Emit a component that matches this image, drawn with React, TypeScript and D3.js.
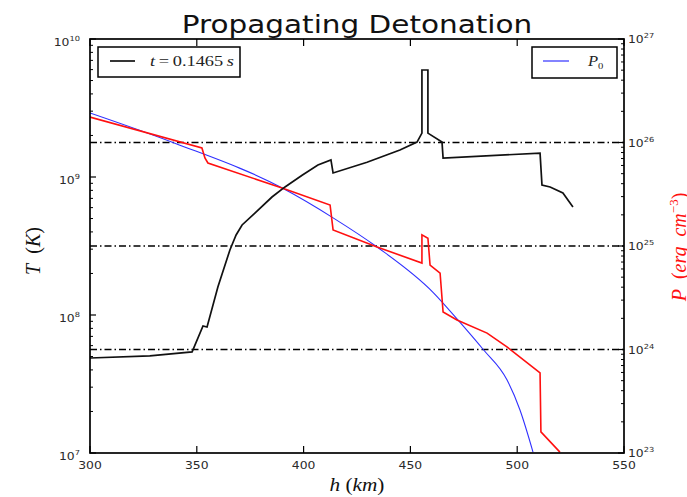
import React from 'react';
import * as d3 from 'd3';

const W = 687;
const H = 497;
const PLOT = { left: 90, right: 624, top: 39, bottom: 453 };

// Temperature profile T(h) at t = 0.1465 s
const hT = [300, 328, 347.8, 352.9, 354.8, 359.9, 365.5, 368.4, 371.2, 377.2, 385.2, 391.3, 399.3, 406.7, 412.8, 413.8, 429.7, 445.1, 453.1, 455.4, 455.4, 458.2, 458.2, 464.8, 465.3, 510.7, 511.6, 515.4, 521.4, 526.1];
const T = [4.88e7, 5.05e7, 5.4e7, 8.32e7, 8.18e7, 1.6e8, 2.96e8, 3.8e8, 4.49e8, 5.48e8, 7.16e8, 8.47e8, 1.03e9, 1.22e9, 1.33e9, 1.07e9, 1.28e9, 1.57e9, 1.79e9, 2.08e9, 5.96e9, 5.96e9, 2.08e9, 1.79e9, 1.37e9, 1.49e9, 8.75e8, 8.47e8, 7.66e8, 6.07e8];

// Pressure profile P(h)
const hP = [300, 352.4, 353.8, 355.2, 389.9, 412.4, 413.8, 434.4, 455.4, 455.4, 458.2, 459.2, 463.9, 465.3, 471.8, 485.9, 495.2, 510.7, 511.1, 520];
const P = [1.76e26, 8.85e25, 7.08e25, 6.34e25, 3.63e25, 2.49e25, 1.43e25, 9.77e24, 6.85e24, 1.28e25, 1.19e25, 6.55e24, 5.48e24, 2.3e24, 1.93e24, 1.44e24, 1.06e24, 5.93e23, 1.6e23, 1.02e23];

// Initial pressure profile P0(h)
const hP0 = [300, 340, 390, 414, 434.4, 460.7, 471.6, 484.1, 495.2, 501.3, 507.4];
const P0 = [1.93e26, 9.8e25, 3.63e25, 1.86e25, 9.77e24, 3.55e24, 2.0e24, 1.0e24, 5.1e23, 2.6e23, 1.02e23];

// Reference pressure levels
const pLevels = [1e24, 1e25, 1e26];

const xTicks = [300, 350, 400, 450, 500, 550];
const tDecades = [7, 8, 9, 10];
const pDecades = [23, 24, 25, 26, 27];

const SX = 1.18; // horizontal stretch of the text
const SANS = 'DejaVu Sans, sans-serif';
const SERIF = 'Liberation Serif, serif';

const x = d3.scaleLinear().domain([300, 550]).range([PLOT.left, PLOT.right]);
const yT = d3.scaleLog().domain([1e7, 1e10]).range([PLOT.bottom, PLOT.top]);
const yP = d3.scaleLog().domain([1e23, 1e27]).range([PLOT.bottom, PLOT.top]);

function Pow({ px, py, exp, anchor }: { px: number; py: number; exp: number; anchor: 'start' | 'end' }) {
  return (
    <text
      transform={`translate(${px},${py}) scale(${SX},1)`}
      textAnchor={anchor}
      fontFamily={SANS}
      fontSize={10.5}
      fill="#2a2a2a"
    >
      <tspan>10</tspan>
      <tspan dy={-5} fontSize={7}>{exp}</tspan>
    </text>
  );
}

function minorTicks(decades: number[]) {
  const out: number[] = [];
  for (let i = 0; i < decades.length - 1; i++) {
    for (let m = 2; m <= 9; m++) out.push(m * Math.pow(10, decades[i]));
  }
  return out;
}

export default function App() {
  const lineT = d3.line<number>().x((_, i) => x(hT[i])).y((d) => yT(d));
  const lineP = d3.line<number>().x((_, i) => x(hP[i])).y((d) => yP(d));
  const lineP0 = d3
    .line<number>()
    .x((_, i) => x(hP0[i]))
    .y((d) => yP(d))
    .curve(d3.curveMonotoneX);

  const tMinor = minorTicks(tDecades);
  const pMinor = minorTicks(pDecades);

  return (
    <svg
      width={W}
      height={H}
      style={{ position: 'fixed', left: 0, top: 0, background: '#fff' }}
    >
      <rect x={0} y={0} width={W} height={H} fill="#fff" />

      {/* title */}
      <text
        transform={`translate(${(PLOT.left + PLOT.right) / 2},33) scale(${SX},1)`}
        textAnchor="middle"
        fontFamily={SANS}
        fontSize={25}
        fill="#111"
      >
        Propagating Detonation
      </text>

      <defs>
        <clipPath id="plot-clip">
          <rect x={PLOT.left} y={PLOT.top} width={PLOT.right - PLOT.left} height={PLOT.bottom - PLOT.top} />
        </clipPath>
      </defs>

      <g clipPath="url(#plot-clip)">
        {pLevels.map((p) => (
          <line
            key={p}
            x1={PLOT.left}
            x2={PLOT.right}
            y1={yP(p)}
            y2={yP(p)}
            stroke="#000"
            strokeWidth={1.4}
            strokeDasharray="7,3,1.5,3"
          />
        ))}
        <path d={lineP0(P0) || ''} fill="none" stroke="#3030ff" strokeWidth={1.1} />
        <path d={lineP(P) || ''} fill="none" stroke="#ff1010" strokeWidth={1.6} strokeLinejoin="miter" />
        <path d={lineT(T) || ''} fill="none" stroke="#111" strokeWidth={1.7} />
      </g>

      {/* x ticks, bottom and top, pointing inward */}
      {xTicks.map((v) => (
        <g key={v}>
          <line x1={x(v)} x2={x(v)} y1={PLOT.bottom} y2={PLOT.bottom - 7} stroke="#000" strokeWidth={1.2} />
          <line x1={x(v)} x2={x(v)} y1={PLOT.top} y2={PLOT.top + 7} stroke="#000" strokeWidth={1.2} />
          <text
            transform={`translate(${x(v)},469) scale(${SX},1)`}
            textAnchor="middle"
            fontFamily={SANS}
            fontSize={10.5}
            fill="#2a2a2a"
          >
            {v}
          </text>
        </g>
      ))}

      {/* left (temperature) axis ticks */}
      {tDecades.map((e) => (
        <g key={e}>
          <line x1={PLOT.left} x2={PLOT.left + 6} y1={yT(Math.pow(10, e))} y2={yT(Math.pow(10, e))} stroke="#000" strokeWidth={1.2} />
          <Pow px={80} py={yT(Math.pow(10, e)) + 7} exp={e} anchor="end" />
        </g>
      ))}
      {tMinor.map((v) => (
        <line key={v} x1={PLOT.left} x2={PLOT.left + 3} y1={yT(v)} y2={yT(v)} stroke="#000" strokeWidth={1} />
      ))}

      {/* right (pressure) axis ticks */}
      {pDecades.map((e) => (
        <g key={e}>
          <line x1={PLOT.right} x2={PLOT.right - 6} y1={yP(Math.pow(10, e))} y2={yP(Math.pow(10, e))} stroke="#000" strokeWidth={1.2} />
          <Pow px={628} py={yP(Math.pow(10, e)) + 4} exp={e} anchor="start" />
        </g>
      ))}
      {pMinor.map((v) => (
        <line key={v} x1={PLOT.right} x2={PLOT.right - 3} y1={yP(v)} y2={yP(v)} stroke="#000" strokeWidth={1} />
      ))}

      {/* frame */}
      <rect
        x={PLOT.left}
        y={PLOT.top}
        width={PLOT.right - PLOT.left}
        height={PLOT.bottom - PLOT.top}
        fill="none"
        stroke="#000"
        strokeWidth={1.7}
      />

      {/* legends */}
      <g>
        <rect x={98} y={47} width={142} height={30} fill="#fff" stroke="#000" strokeWidth={1.5} />
        <line x1={110} x2={135} y1={61} y2={61} stroke="#111" strokeWidth={1.7} />
        <text
          x={150}
          y={66}
          textLength={84}
          lengthAdjust="spacingAndGlyphs"
          fontFamily={SERIF}
          fontSize={14}
          fill="#222"
        >
          <tspan fontStyle="italic">t</tspan>
          <tspan>{'\u2009=\u20090.1465\u2009'}</tspan>
          <tspan fontStyle="italic">s</tspan>
        </text>
      </g>
      <g>
        <rect x={532} y={47} width={85} height={31} fill="#fff" stroke="#000" strokeWidth={1.5} />
        <line x1={543} x2={569} y1={61} y2={61} stroke="#3030ff" strokeWidth={1.2} />
        <text
          transform={`translate(588,66) scale(${SX},1)`}
          fontFamily={SERIF}
          fontSize={14}
          fill="#222"
        >
          <tspan fontStyle="italic">P</tspan>
          <tspan dy={3} fontSize={9}>0</tspan>
        </text>
      </g>

      {/* axis labels */}
      <text
        transform={`translate(${(PLOT.left + PLOT.right) / 2},491) scale(${SX},1)`}
        textAnchor="middle"
        fontFamily={SERIF}
        fontSize={18}
        fill="#111"
      >
        <tspan fontStyle="italic">h</tspan>
        <tspan>{' ('}</tspan>
        <tspan fontStyle="italic">km</tspan>
        <tspan>)</tspan>
      </text>
      <text
        transform={`translate(40,251) rotate(-90)`}
        textAnchor="middle"
        fontFamily={SERIF}
        fontSize={20}
        fill="#111"
      >
        <tspan fontStyle="italic">T</tspan>
        <tspan>{'\u2002('}</tspan>
        <tspan fontStyle="italic">K</tspan>
        <tspan>)</tspan>
      </text>
      <text
        transform={`translate(686,247) rotate(-90)`}
        textAnchor="middle"
        fontFamily={SERIF}
        fontSize={20}
        fill="#ff1010"
      >
        <tspan fontStyle="italic">P</tspan>
        <tspan>{'\u2002('}</tspan>
        <tspan fontStyle="italic">{'erg\u2002cm'}</tspan>
        <tspan dy={-8} fontSize={13}>{'\u22123'}</tspan>
        <tspan dy={8}>)</tspan>
      </text>
    </svg>
  );
}
